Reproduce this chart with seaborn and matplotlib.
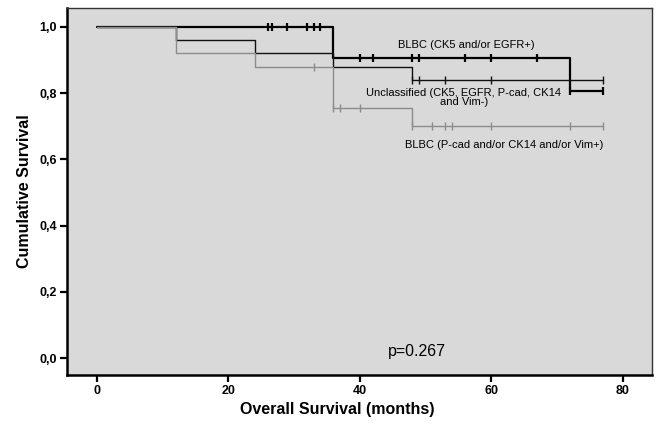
import matplotlib
matplotlib.use("Agg")
import matplotlib.pyplot as plt
import numpy as np
import pandas as pd
import seaborn as sns

# Kaplan-Meier curves (months, survival)
times_ck5 = [0, 36, 72, 77]
surv_ck5 = [1.0, 0.905, 0.805, 0.805]
cens_ck5 = [26, 26.6, 29, 32, 33, 34, 40, 42, 48, 49, 56, 60, 67, 72, 77]

times_uncl = [0, 12, 24, 36, 48, 77]
surv_uncl = [1.0, 0.96, 0.92, 0.88, 0.84, 0.84]
cens_uncl = [48, 49, 53, 60, 77]

times_pcad = [0, 12, 24, 36, 48, 77]
surv_pcad = [1.0, 0.92, 0.88, 0.755, 0.70, 0.70]
cens_pcad = [33, 36, 37, 40, 48, 51, 53, 54, 60, 72, 77]

x_ticks = [0, 20, 40, 60, 80]
y_ticks = [0.0, 0.2, 0.4, 0.6, 0.8, 1.0]
y_tick_labels = ["0,0", "0,2", "0,4", "0,6", "0,8", "1,0"]

sns.set_style("ticks", {"axes.facecolor": "#d9d9d9", "text.color": "black",
                        "axes.labelcolor": "black", "xtick.color": "black",
                        "ytick.color": "black"})
plt.rcParams["font.family"] = ["Liberation Sans", "DejaVu Sans"]

fig = plt.figure(figsize=(6.56, 4.28), dpi=100)
ax = fig.add_axes([66.5 / 656, 53 / 428, 585.5 / 656, 367 / 428])

curves = [
    ("ck5", times_ck5, surv_ck5, cens_ck5, "black", 1.6),
    ("uncl", times_uncl, surv_uncl, cens_uncl, "#111111", 1.0),
    ("pcad", times_pcad, surv_pcad, cens_pcad, "#8c8c8c", 1.0),
]

for name, t, s, cens, color, lw in curves:
    steps = pd.DataFrame({"time": t, "surv": s})
    sns.lineplot(data=steps, x="time", y="surv", drawstyle="steps-post",
                 estimator=None, sort=False, color=color, linewidth=lw, ax=ax)
    # censor ticks sit on the curve value at that time
    idx = np.searchsorted(t, cens, side="right") - 1
    marks = pd.DataFrame({"time": cens, "surv": np.array(s)[idx]})
    sns.scatterplot(data=marks, x="time", y="surv", marker="|", s=28,
                    color=color, linewidth=lw, ax=ax, zorder=3)

ax.text(56.2, 0.944, "BLBC (CK5 and/or EGFR+)", fontsize=8, ha="center", va="center")
ax.text(55.8, 0.787, "Unclassified (CK5, EGFR, P-cad, CK14\nand Vim-)", fontsize=8,
        ha="center", va="center", linespacing=0.95)
ax.text(62.0, 0.644, "BLBC (P-cad and/or CK14 and/or Vim+)", fontsize=8,
        ha="center", va="center")
ax.text(48.7, 0.02, "p=0.267", fontsize=11.5, ha="center", va="center")

ax.set_xlim(-4.57, 84.4)
ax.set_ylim(-0.051, 1.057)
ax.set_xticks(x_ticks)
ax.set_xticklabels([str(v) for v in x_ticks], fontweight="bold", fontsize=9)
ax.set_yticks(y_ticks)
ax.set_yticklabels(y_tick_labels, fontweight="bold", fontsize=9)
ax.tick_params(axis="both", direction="out", length=5, width=1.6, color="black", pad=2)

ax.set_xlabel("Overall Survival (months)", fontweight="bold", fontsize=11.5)
ax.set_ylabel("Cumulative Survival", fontweight="bold", fontsize=11.5)
ax.xaxis.set_label_coords(0.462, -0.074)
ax.yaxis.set_label_coords(-0.059, 0.5)

for side in ["left", "bottom"]:
    ax.spines[side].set_linewidth(1.8)
    ax.spines[side].set_color("black")
for side in ["top", "right"]:
    ax.spines[side].set_visible(True)
    ax.spines[side].set_linewidth(1.0)
    ax.spines[side].set_color("#333333")

fig.savefig("out.png", dpi=100)
plt.close()
